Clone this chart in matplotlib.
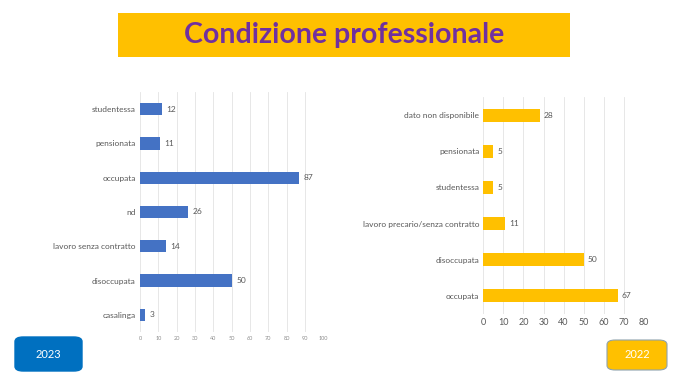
import matplotlib.pyplot as plt
from matplotlib.patches import FancyBboxPatch, Rectangle

# 2023 data (bottom to top as drawn)
cat_2023 = ["casalinga", "disoccupata", "lavoro senza contratto", "nd",
            "occupata", "pensionata", "studentessa"]
val_2023 = [3, 50, 14, 26, 87, 11, 12]

# 2022 data (bottom to top as drawn)
cat_2022 = ["occupata", "disoccupata", "lavoro precario/senza contratto",
            "studentessa", "pensionata", "dato non disponibile"]
val_2022 = [67, 50, 11, 5, 5, 28]

ticks_2023 = list(range(0, 101, 10))
ticks_2022 = list(range(0, 81, 10))

W, H = 680, 383
plt.rcParams['font.family'] = ['Lato', 'DejaVu Sans']
grey = '#595959'

fig = plt.figure(figsize=(W / 100, H / 100), dpi=100)


def ax_px(x0, y0, x1, y1):
    # pixel box -> figure fraction
    return fig.add_axes([x0 / W, 1 - y1 / H, (x1 - x0) / W, (y1 - y0) / H])


def bars(ax, cats, vals, ticks, color, tick_fs, tick_col):
    ax.barh(range(len(cats)), vals, height=0.36, color=color, zorder=3)
    ax.set_yticks(range(len(cats)))
    ax.set_yticklabels(cats, fontsize=6, color=grey)
    ax.set_xticks(ticks)
    ax.set_xticklabels([str(t) for t in ticks], fontsize=tick_fs, color=tick_col)
    ax.set_xlim(ticks[0], ticks[-1])
    ax.set_ylim(-0.5, len(cats) - 0.5)
    ax.grid(axis='x', color='#e3e3e3', linewidth=0.6, zorder=0)
    for s in ax.spines.values():
        s.set_visible(False)
    ax.tick_params(length=0, pad=3)
    for i, v in enumerate(vals):
        ax.text(v + ticks[-1] * 0.025, i, str(v), va='center', ha='left',
                fontsize=6, color=grey)


ax1 = ax_px(140, 92, 323.3, 332)
bars(ax1, cat_2023, val_2023, ticks_2023, '#4472C4', 4, '#8c8c8c')

ax2 = ax_px(483.3, 97, 644, 314)
bars(ax2, cat_2022, val_2022, ticks_2022, '#FFC000', 6.5, grey)

# title banner
fig.patches.append(Rectangle((118 / W, 1 - 57 / H), (570 - 118) / W, 44 / H,
                             transform=fig.transFigure, facecolor='#FFC000',
                             edgecolor='none'))
fig.text(344 / W, 1 - 35 / H, "Condizione professionale", ha='center',
         va='center', fontsize=20.5, fontweight='bold', color='#7030A0')

# year badges
fig.patches.append(FancyBboxPatch((15 / W, 1 - 371 / H), 67 / W, 34 / H,
                                  boxstyle='round,pad=0,rounding_size=0.012',
                                  transform=fig.transFigure,
                                  facecolor='#0070C0', edgecolor='#0070C0'))
fig.text(48.5 / W, 1 - 354 / H, "2023", ha='center', va='center',
         fontsize=8, color='white')
fig.patches.append(FancyBboxPatch((607 / W, 1 - 370 / H), 60 / W, 30 / H,
                                  boxstyle='round,pad=0,rounding_size=0.012',
                                  transform=fig.transFigure,
                                  facecolor='#FFC000', edgecolor='#8fa3ad',
                                  linewidth=0.8))
fig.text(637 / W, 1 - 355 / H, "2022", ha='center', va='center',
         fontsize=8, color='white')

fig.savefig('out.png', dpi=100)
